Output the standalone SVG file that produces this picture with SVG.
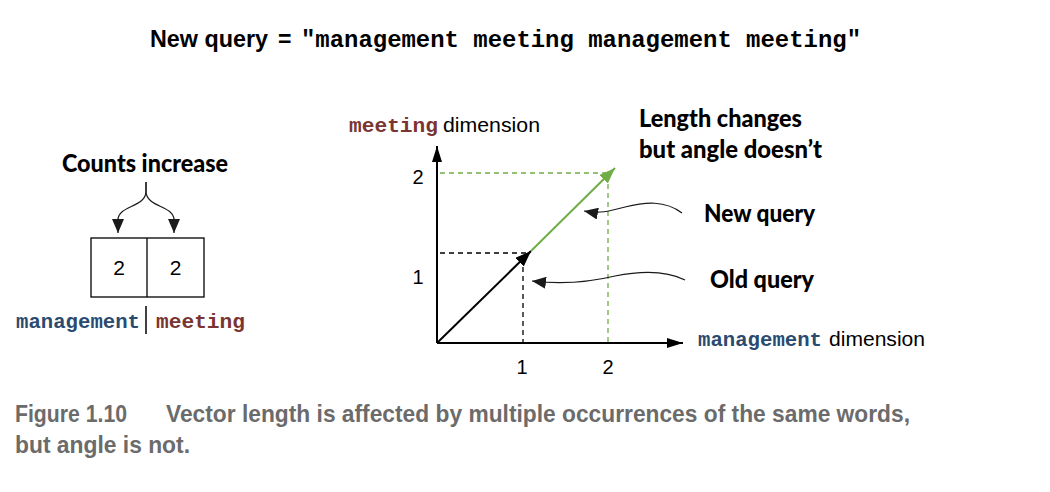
<svg xmlns="http://www.w3.org/2000/svg" width="1050" height="492" viewBox="0 0 1050 492">
<defs>
<marker id="ahAxis" viewBox="0 0 16 10" refX="16" refY="5" markerWidth="16" markerHeight="10" markerUnits="userSpaceOnUse" orient="auto"><path d="M0,0 L16,5 L0,10 Z" fill="#000"/></marker>
<marker id="ahVec" viewBox="0 0 16 12" refX="16" refY="6" markerWidth="16" markerHeight="12" markerUnits="userSpaceOnUse" orient="auto"><path d="M0,0 L16,6 L0,12 Z" fill="#000"/></marker>
<marker id="ahGreen" viewBox="0 0 16 12" refX="16" refY="6" markerWidth="16" markerHeight="12" markerUnits="userSpaceOnUse" orient="auto"><path d="M0,0 L16,6 L0,12 Z" fill="#70ad47"/></marker>
<marker id="ahCurl" viewBox="0 0 14 12" refX="14" refY="6" markerWidth="14" markerHeight="12" markerUnits="userSpaceOnUse" orient="auto"><path d="M0,0 L14,6 L0,12 Z" fill="#1a1a1a"/></marker>
</defs>
<style>
.sans{font-family:"Liberation Sans",Arial,sans-serif;fill:#000}
.mono{font-family:"Liberation Mono","Courier New",monospace;font-weight:bold}
.hum{font-family:Lato,"Open Sans",sans-serif;font-weight:900;fill:#000}
.cap{font-family:"Liberation Sans",Arial,sans-serif;font-weight:bold;fill:#6b6b6b;font-size:24px}
.blue{fill:#2b4a70}
.red{fill:#7a3532}
.axis{stroke:#000;stroke-width:2;fill:none}
.dash{stroke:#000;stroke-width:1.3;stroke-dasharray:5,4;fill:none}
.gdash{stroke:#70ad47;stroke-width:1.3;stroke-dasharray:5,4;fill:none}
.curl{stroke:#1a1a1a;stroke-width:1.2;fill:none}
</style>

<g id="title">
<text class="sans" x="150" y="47" font-size="24" font-weight="bold" textLength="118" lengthAdjust="spacingAndGlyphs">New query</text>
<text class="sans" x="278" y="47" font-size="23" font-weight="bold">=</text>
<text class="mono" x="301" y="47" font-size="24" fill="#000" textLength="560" lengthAdjust="spacingAndGlyphs">"management meeting management meeting"</text>
</g>

<g id="counts-label">
<text class="hum" x="62" y="172" font-size="25" textLength="166" lengthAdjust="spacingAndGlyphs">Counts increase</text>
</g>

<g id="count-box">
<rect x="91" y="238" width="113" height="59" fill="#fff" stroke="#000" stroke-width="1.3"/>
<line x1="147" y1="238" x2="147" y2="297" stroke="#000" stroke-width="1.3"/>
<text class="sans" x="119" y="275" font-size="21" text-anchor="middle">2</text>
<text class="sans" x="175.5" y="275" font-size="21" text-anchor="middle">2</text>
</g>

<g id="vocab-label">
<text class="mono blue" x="16" y="328" font-size="21" textLength="124" lengthAdjust="spacingAndGlyphs">management</text>
<line x1="146" y1="306" x2="146" y2="334" stroke="#000" stroke-width="1.5"/>
<text class="mono red" x="156" y="328" font-size="21" textLength="89" lengthAdjust="spacingAndGlyphs">meeting</text>
</g>

<g id="chart-axes">
<line class="axis" x1="437" y1="343" x2="437" y2="146" marker-end="url(#ahAxis)"/>
<line class="axis" x1="437" y1="343" x2="683" y2="343" marker-end="url(#ahAxis)"/>
<text class="sans" x="522" y="374" font-size="20" text-anchor="middle">1</text>
<text class="sans" x="608" y="374" font-size="20" text-anchor="middle">2</text>
<text class="sans" x="418" y="184" font-size="20" text-anchor="middle">2</text>
<text class="sans" x="418" y="284" font-size="20" text-anchor="middle">1</text>
</g>

<g id="y-axis-label">
<text class="mono red" x="349" y="132" font-size="20" textLength="89" lengthAdjust="spacingAndGlyphs">meeting</text>
<text class="sans" x="443" y="132" font-size="20" textLength="97" lengthAdjust="spacingAndGlyphs">dimension</text>
</g>

<g id="x-axis-label">
<text class="mono blue" x="698" y="346" font-size="20" textLength="124" lengthAdjust="spacingAndGlyphs">management</text>
<text class="sans" x="829" y="346" font-size="20" textLength="96" lengthAdjust="spacingAndGlyphs">dimension</text>
</g>

<g id="guides">
<path class="dash" d="M440,253 H527"/>
<path class="dash" d="M523,258 V343"/>
<path class="gdash" d="M440,173 H606"/>
<path class="gdash" d="M608,175 V343"/>
</g>

<g id="vectors">
<line x1="437" y1="343" x2="531" y2="251" stroke="#000" stroke-width="2" marker-end="url(#ahVec)"/>
<line x1="531" y1="251" x2="615" y2="168" stroke="#70ad47" stroke-width="2" marker-end="url(#ahGreen)"/>
</g>

<g id="annotation-length">
<text class="hum" x="639" y="127" font-size="24" textLength="163" lengthAdjust="spacingAndGlyphs">Length changes</text>
<text class="hum" x="639" y="158" font-size="24" textLength="183" lengthAdjust="spacingAndGlyphs">but angle doesn’t</text>
</g>

<g id="annotation-new">
<text class="hum" x="704" y="222" font-size="24" textLength="111" lengthAdjust="spacingAndGlyphs">New query</text>
</g>

<g id="annotation-old">
<text class="hum" x="710" y="288" font-size="24" textLength="104" lengthAdjust="spacingAndGlyphs">Old query</text>
</g>

<g id="connectors">
<path class="curl" d="M146,182 V191 C146,208 118,205 118,220 L118,233" marker-end="url(#ahCurl)"/>
<path class="curl" d="M146,182 V191 C146,208 174,205 174,220 L174,233" marker-end="url(#ahCurl)"/>
<path class="curl" d="M682,213 C665,200 645,202 625,207 C610,211 600,214 584,211" marker-end="url(#ahCurl)"/>
<path class="curl" d="M685,280 C665,270 640,271 615,276 C590,282 565,285 532,281" marker-end="url(#ahCurl)"/>
</g>

<g id="caption">
<text class="cap" x="15" y="422" textLength="112" lengthAdjust="spacingAndGlyphs">Figure 1.10</text>
<text class="cap" x="166" y="422" textLength="744" lengthAdjust="spacingAndGlyphs">Vector length is affected by multiple occurrences of the same words,</text>
<text class="cap" x="15" y="453" textLength="175" lengthAdjust="spacingAndGlyphs">but angle is not.</text>
</g>
</svg>
